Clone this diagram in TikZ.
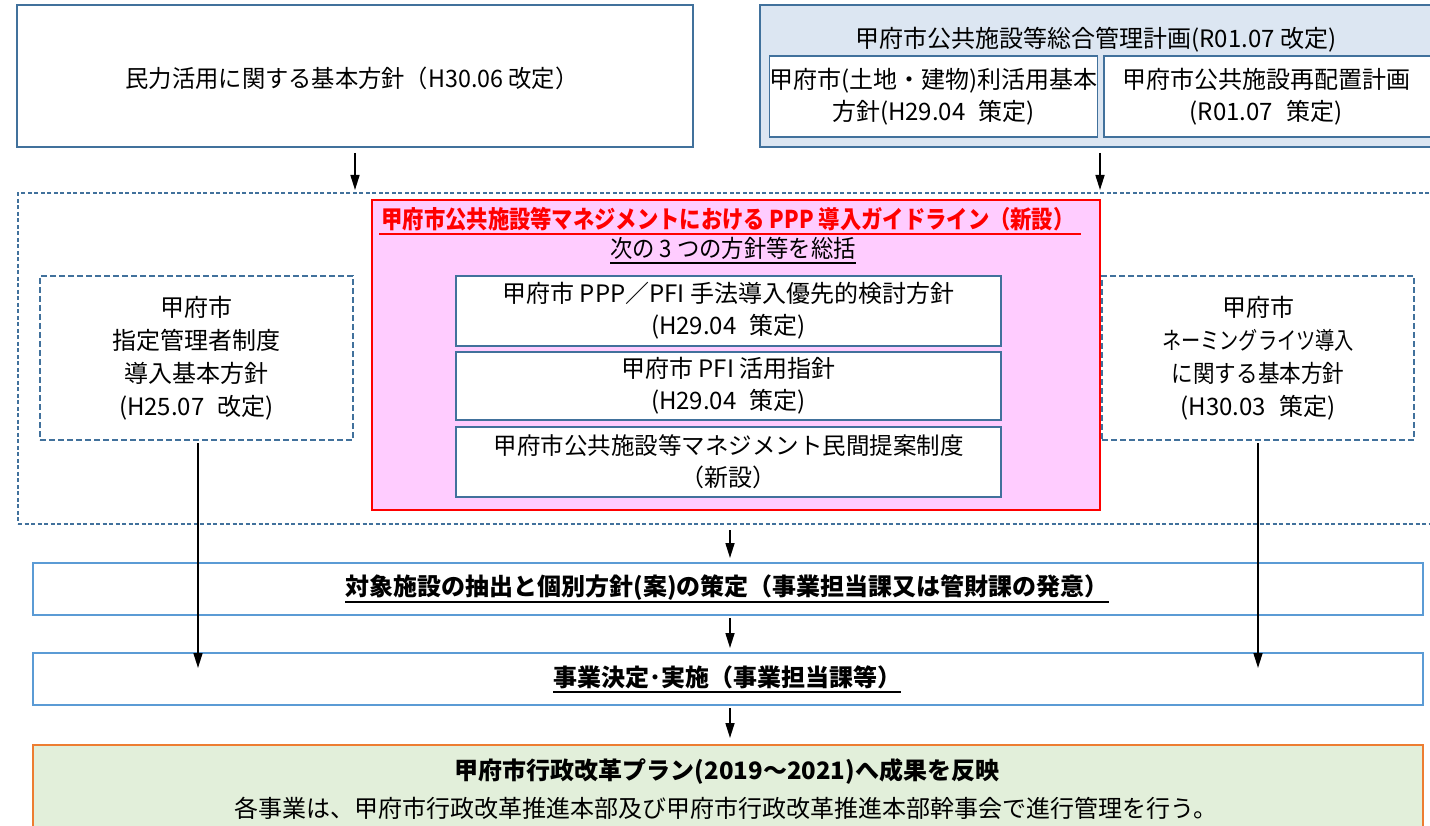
\documentclass[tikz,border=0pt]{standalone}
\usepackage{fontspec}
\usepackage{graphicx}
\setmainfont{Noto Sans CJK JP}
\usetikzlibrary{arrows.meta,calc}
\definecolor{bord}{HTML}{41719C}
\definecolor{lblue}{HTML}{DCE6F2}
\definecolor{pinkf}{HTML}{FFCCFF}
\definecolor{boxblue}{HTML}{5B9BD5}
\definecolor{greenf}{HTML}{E2EFDA}
\definecolor{orng}{HTML}{ED7D31}
\newcommand\gapp{\hspace{0.55em}}
\newcommand\sqz[2]{\scalebox{#1}[1]{#2}}
\begin{document}
\begin{tikzpicture}[x=1pt,y=-1pt, font=\fontsize{24}{32}\selectfont,
  box/.style={draw=bord, line width=1.8pt, fill=white, inner sep=0pt, outer sep=0pt, align=center},
  dbox/.style={draw=bord, line width=2pt, dash pattern=on 6pt off 3pt, fill=white, inner sep=0pt, outer sep=0pt, align=center, font=\fontsize{24}{33}\selectfont},
  wbox/.style={draw=boxblue, line width=2.2pt, fill=white, inner sep=0pt, outer sep=0pt, align=center},
  txt/.style={inner sep=0pt, outer sep=0pt, align=center},
  arr/.style={line width=1.6pt, -{Triangle[width=9pt,length=15pt]}},
  uline/.style={line width=2.2pt},
]
\useasboundingbox (0,0) rectangle (1430,826);
\clip (0,0) rectangle (1430,826);
\fill[white] (0,0) rectangle (1430,826);

% top left box
\node[box, minimum width=676pt, minimum height=142pt] (b1) at (355,76) {};
\node[txt] (b1t) at (352,78) {\sqz{0.97}{民力活用に関する基本方針（H30.06 改定）}};

% top right box
\node[box, fill=lblue, minimum width=680pt, minimum height=142pt] (b2) at (1100,76) {};
\node[txt] (b2t) at (1096,40) {甲府市公共施設等総合管理計画(R01.07 改定)};
\node[box, line width=1.6pt, minimum width=327pt, minimum height=81pt] (b2a) at (933.5,96.5) {甲府市(土地・建物)利活用基本\\方針(H29.04\gapp 策定)};
\node[box, line width=1.6pt, minimum width=332pt, minimum height=81pt] (b2b) at (1270,96.5) {};
\node[txt] (b2bt) at (1266,97) {甲府市公共施設再配置計画\\(R01.07\gapp 策定)};

% big dashed region
\node[draw=bord, line width=1.4pt, dash pattern=on 4pt off 2.5pt, inner sep=0pt, outer sep=0pt, minimum width=1424pt, minimum height=331pt] (big) at (730,358.5) {};

% pink guideline box
\node[draw=red, line width=2.2pt, fill=pinkf, inner sep=0pt, outer sep=0pt, minimum width=728pt, minimum height=310pt] (pk) at (736,355) {};
\node[txt, text=red, font=\fontsize{24.5}{32}\selectfont\bfseries] (pkt) at (728,219) {\sqz{0.87}{甲府市公共施設等マネジメントにおける PPP 導入ガイドライン（新設）}};
\draw[uline, red] ($(pkt.base west)+(-2,6)$) -- ($(pkt.base east)+(6,6)$);
\node[txt] (pks) at (733,248) {\sqz{0.93}{次の 3 つの方針等を総括}};
\draw[uline] ($(pks.base west)+(0,6)$) -- ($(pks.base east)+(0,6)$);

\node[box, line width=2.4pt, minimum width=545pt, minimum height=70pt] (p1) at (728.5,311) {甲府市 PPP／PFI 手法導入優先的検討方針\\(H29.04\gapp 策定)};
\node[box, line width=2.4pt, minimum width=545pt, minimum height=68pt] (p2) at (728.5,386) {甲府市 PFI 活用指針\\(H29.04\gapp 策定)};
\node[box, line width=2.4pt, minimum width=545pt, minimum height=70pt] (p3) at (728.5,462) {{\fontsize{23.5}{32}\selectfont 甲府市公共施設等マネジメント民間提案制度}\\（新設）};

% side dashed boxes
\node[dbox, minimum width=313pt, minimum height=164pt] (ld) at (196.5,358) {甲府市\\指定管理者制度\\導入基本方針\\(H25.07\gapp 改定)};
\node[dbox, minimum width=312pt, minimum height=164pt] (rd) at (1258,358) {甲府市\\\sqz{0.8}{ネーミングライツ導入}\\\sqz{0.9}{に関する基本方針}\\(H30.03\gapp 策定)};

% process boxes
\node[wbox, minimum width=1390pt, minimum height=52pt] (bA) at (728,589) {};
\node[txt, font=\fontsize{24}{32}\selectfont\bfseries] (bAt) at (727,588) {対象施設の抽出と個別方針(案)の策定（事業担当課又は管財課の発意）};
\draw[uline] ($(bAt.base west)+(0,6)$) -- ($(bAt.base east)+(0,6)$);

\node[wbox, minimum width=1390pt, minimum height=52pt] (bB) at (728,679) {};
\node[txt, font=\fontsize{24}{32}\selectfont\bfseries] (bBt) at (727,677) {事業決定･実施（事業担当課等）};
\draw[uline] ($(bBt.base west)+(0,6)$) -- ($(bBt.base east)+(0,6)$);

\node[draw=orng, line width=1.5pt, fill=greenf, inner sep=0pt, outer sep=0pt, minimum width=1390pt, minimum height=100pt] (bC) at (728,795) {};
\node[txt, font=\fontsize{24}{32}\selectfont\bfseries] (bCt) at (727,771) {甲府市行政改革プラン(2019～2021)へ成果を反映};
\node[txt, font=\fontsize{24}{32}\selectfont] (bCs) at (726,808) {各事業は、甲府市行政改革推進本部及び甲府市行政改革推進本部幹事会で進行管理を行う。};

% arrows
\draw[arr] ($(b1.south)+(0,6)$) -- ($(b1.south |- big.north)+(0,-3)$);
\draw[arr] ($(b2.south)+(0,6)$) -- ($(b2.south |- big.north)+(0,-3)$);
\draw[arr] ($(bA.north |- big.south)+(2,6)$) -- ($(bA.north)+(2,-5)$);
\draw[arr] ($(bA.south)+(2,3)$) -- ($(bB.north)+(2,-5)$);
\draw[arr] ($(bB.south)+(2,3)$) -- ($(bC.north)+(2,-7)$);
\draw[arr] ($(ld.south)+(1.5,3)$) -- ($(ld.south |- bB.north)+(1.5,15)$);
\draw[arr] ($(rd.south)+(0,3)$) -- ($(rd.south |- bB.north)+(0,15)$);
\end{tikzpicture}
\end{document}
